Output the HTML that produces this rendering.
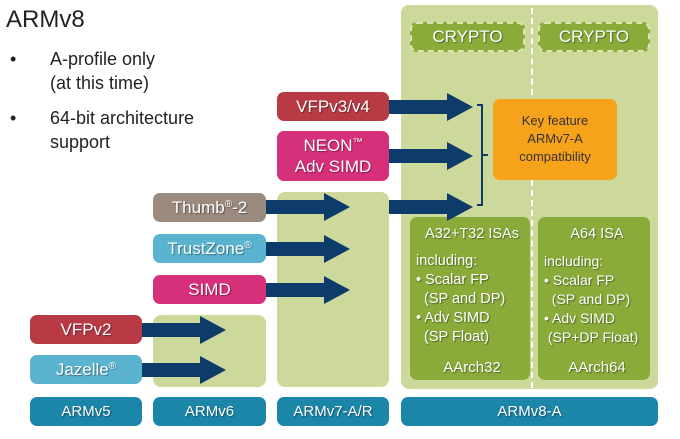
<!DOCTYPE html>
<html><head><style>
body{margin:0;width:680px;height:439px;background:#fff;position:relative;overflow:hidden;font-family:"Liberation Sans",sans-serif}
.b{position:absolute;border-radius:7px;color:#fff;text-align:center;box-sizing:border-box;text-shadow:1px 1px 1px rgba(0,0,0,.4)}
.g{position:absolute;background:#cdd99a;border-radius:8px}
.ver{background:#1c86a8;font-size:15px;line-height:29px;top:397px;height:29px}
.lab{font-size:17px;line-height:29px;height:29px}
.t{position:absolute;color:#222}
sup{font-size:10px;vertical-align:6px;line-height:0}
</style></head><body>
<div class="t" style="left:6px;top:6px;font-size:24px">ARMv8</div>
<div class="t" style="left:10px;top:47px;font-size:18px;line-height:24px">•</div>
<div class="t" style="left:50px;top:47px;font-size:18px;line-height:24px">A-profile only<br>(at this time)</div>
<div class="t" style="left:10px;top:106px;font-size:18px;line-height:24px">•</div>
<div class="t" style="left:50px;top:106px;font-size:18px;line-height:24px">64-bit architecture<br>support</div>

<div class="g" style="left:153px;top:315px;width:113px;height:72px"></div>
<div class="g" style="left:277px;top:192px;width:112px;height:195px"></div>
<div class="g" style="left:401px;top:5px;width:257px;height:384px"></div>
<div style="position:absolute;left:531px;top:8px;height:380px;border-left:2px dashed #fff"></div>

<div class="b" style="left:410px;top:22px;width:115px;height:30px;background:#8aab3a;border:2px dashed #d8e6b0;font-size:17px;line-height:26px">CRYPTO</div>
<div class="b" style="left:538px;top:22px;width:112px;height:30px;background:#8aab3a;border:2px dashed #d8e6b0;font-size:17px;line-height:26px">CRYPTO</div>
<div class="b" style="left:493px;top:99px;width:124px;height:81px;background:#f7a21b;color:#333;text-shadow:none;font-size:13px;line-height:18px;padding-top:13px">Key feature<br>ARMv7-A<br>compatibility</div>

<div class="b" style="left:410px;top:217px;width:120px;height:163px;background:#8aab3a;font-size:14.5px;line-height:19px;text-align:left;padding:8px 2px 0 6px">
<div style="text-align:center;font-size:14.5px">A32+T32 ISAs</div>
<div style="margin-top:8px">including:<br>• Scalar FP<br>&nbsp;&nbsp;(SP and DP)<br>• Adv SIMD<br>&nbsp;&nbsp;(SP Float)</div>
<div style="text-align:center;margin-top:11px;font-size:15px">AArch32</div></div>
<div class="b" style="left:538px;top:217px;width:112px;height:163px;background:#8aab3a;font-size:14px;line-height:19px;text-align:left;padding:8px 0 0 6px;white-space:nowrap">
<div style="text-align:center;font-size:14.5px">A64 ISA</div>
<div style="margin-top:8px">including:<br>• Scalar FP<br>&nbsp;&nbsp;(SP and DP)<br>• Adv SIMD<br>&nbsp;(SP+DP Float)</div>
<div style="text-align:center;margin-top:11px;font-size:15px">AArch64</div></div>

<div class="b ver" style="left:30px;width:112px">ARMv5</div>
<div class="b ver" style="left:153px;width:113px">ARMv6</div>
<div class="b ver" style="left:277px;width:112px">ARMv7-A/R</div>
<div class="b ver" style="left:401px;width:257px">ARMv8-A</div>

<div class="b lab" style="left:277px;top:92px;width:112px;background:#b83a45">VFPv3/v4</div>
<div class="b" style="left:277px;top:131px;width:112px;height:50px;background:#d6307a;font-size:17px;line-height:21px;padding-top:4px">NEON<sup>™</sup><br>Adv SIMD</div>
<div class="b lab" style="left:153px;top:193px;width:113px;background:#9b8a7e">Thumb<sup>®</sup>-2</div>
<div class="b lab" style="left:153px;top:234px;width:113px;background:#5ab4d0">TrustZone<sup>®</sup></div>
<div class="b lab" style="left:153px;top:275px;width:113px;background:#d6307a">SIMD</div>
<div class="b lab" style="left:30px;top:315px;width:112px;background:#b83a45">VFPv2</div>
<div class="b lab" style="left:30px;top:355px;width:112px;background:#5ab4d0">Jazelle<sup>®</sup></div>

<svg style="position:absolute;left:0;top:0" width="680" height="439">
<defs><g id="a"><polygon points="0,-7 58,-7 58,-14 84,0 58,14 58,7 0,7" fill="#0e3c6a"/></g></defs>
<use href="#a" x="389" y="107"/>
<use href="#a" x="389" y="156"/>
<use href="#a" x="266" y="207"/>
<use href="#a" x="389" y="207"/>
<use href="#a" x="266" y="249"/>
<use href="#a" x="266" y="290"/>
<use href="#a" x="142" y="330"/>
<use href="#a" x="142" y="370"/>
<path d="M477,105 H482 V205 H477 M482,155 H488" stroke="#0e3c6a" stroke-width="2" fill="none"/>
</svg>
</body></html>
